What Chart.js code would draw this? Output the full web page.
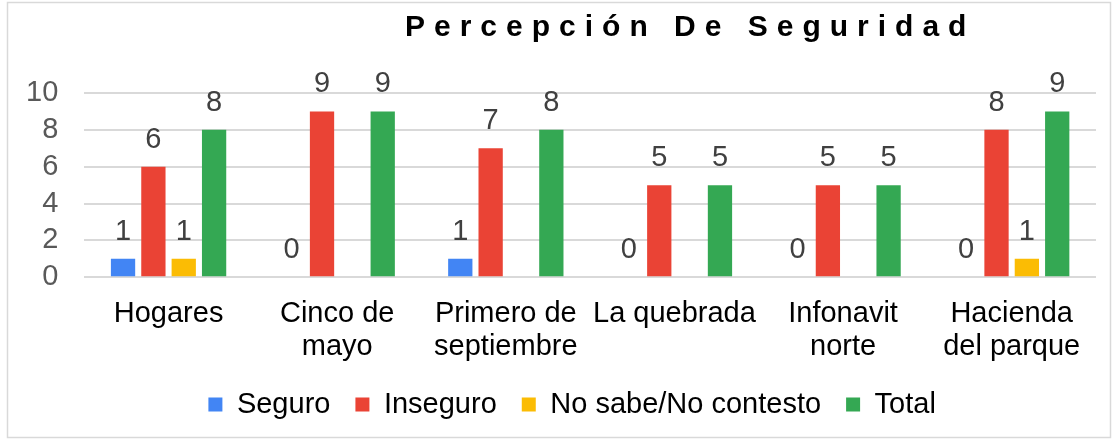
<!DOCTYPE html>
<html>
<head>
<meta charset="utf-8">
<script src="https://cdn.jsdelivr.net/npm/chart.js@4/dist/chart.umd.min.js"></script>
<style>
  html, body { margin: 0; padding: 0; background: #fff; }
  #wrap { position: relative; width: 1120px; height: 441px; }
</style>
</head>
<body>
<div id="wrap"><canvas id="chart"></canvas></div>
<script>
const categorias = ["Hogares", ["Cinco de", "mayo"], ["Primero de", "septiembre"], "La quebrada", ["Infonavit", "norte"], ["Hacienda", "del parque"]];
const seguro = [1, 0, 1, 0, 0, 0];
const inseguro = [6, 9, 7, 5, 5, 8];
const noSabe = [1, null, null, null, null, 1];
const total = [8, 9, 8, 5, 5, 9];
const ticksY = [0, 2, 4, 6, 8, 10];

const fuente = "'Liberation Sans', Arial, sans-serif";

// marco, titulo y etiquetas de valor
const extras = {
  id: "extras",
  afterLayout(chart) {
    // acercar la leyenda al eje
    const lg = chart.legend;
    lg.top -= 11; lg.bottom -= 11;
    lg.left -= 18; lg.right -= 18;
  },
  beforeDraw(chart) {
    const ctx = chart.ctx;
    ctx.save();
    ctx.fillStyle = "#fff";
    ctx.fillRect(0, 0, chart.width, chart.height);
    ctx.strokeStyle = "#d9d9d9";
    ctx.lineWidth = 1.5;
    ctx.strokeRect(7.5, 2.5, 1103, 435);
    ctx.restore();
  },
  afterDatasetsDraw(chart) {
    const ctx = chart.ctx;
    ctx.save();
    ctx.font = "29px " + fuente;
    ctx.fillStyle = "#404040";
    ctx.textAlign = "center";
    ctx.textBaseline = "middle";
    chart.data.datasets.forEach((ds, i) => {
      const meta = chart.getDatasetMeta(i);
      meta.data.forEach((bar, j) => {
        const v = ds.data[j];
        if (v === null || v === undefined) return;
        ctx.fillText(String(v), bar.x, bar.y - 27);
      });
    });
    // titulo
    ctx.font = "bold 30px " + fuente;
    ctx.fillStyle = "#000";
    ctx.textAlign = "left";
    ctx.textBaseline = "alphabetic";
    ctx.letterSpacing = "9px";
    ctx.fillText("Percepción De Seguridad", 405, 36);
    ctx.restore();
  }
};

new Chart(document.getElementById("chart"), {
  type: "bar",
  data: {
    labels: categorias,
    datasets: [
      { label: "Seguro", data: seguro, backgroundColor: "#4285F4" },
      { label: "Inseguro", data: inseguro, backgroundColor: "#EA4335" },
      { label: "No sabe/No contesto", data: noSabe, backgroundColor: "#FBBC04" },
      { label: "Total", data: total, backgroundColor: "#34A853" }
    ]
  },
  options: {
    responsive: true,
    maintainAspectRatio: false,
    animation: false,
    categoryPercentage: 0.72,
    barPercentage: 0.8,
    layout: { padding: { top: 93, left: 0, right: 24, bottom: 1 } },
    plugins: {
      title: { display: false },
      tooltip: { enabled: false },
      legend: {
        position: "bottom",
        fullSize: false,
        labels: {
          boxWidth: 14,
          boxHeight: 14,
          padding: 25,
          color: "#000",
          font: { family: fuente, size: 29 }
        }
      }
    },
    scales: {
      x: {
        grid: { display: false },
        border: { display: false },
        ticks: {
          color: "#000",
          padding: 12,
          maxRotation: 0,
          autoSkip: false,
          font: { family: fuente, size: 29, lineHeight: 1.15 }
        }
      },
      y: {
        min: 0,
        max: 10,
        afterBuildTicks(scale) {
          scale.ticks = ticksY.map(v => ({ value: v }));
        },
        grid: { color: "#d9d9d9", lineWidth: 2, drawTicks: false },
        border: { display: false },
        ticks: {
          color: "#595959",
          padding: 26,
          autoSkip: false,
          font: { family: fuente, size: 29 }
        }
      }
    }
  },
  plugins: [extras]
});
</script>
</body>
</html>
